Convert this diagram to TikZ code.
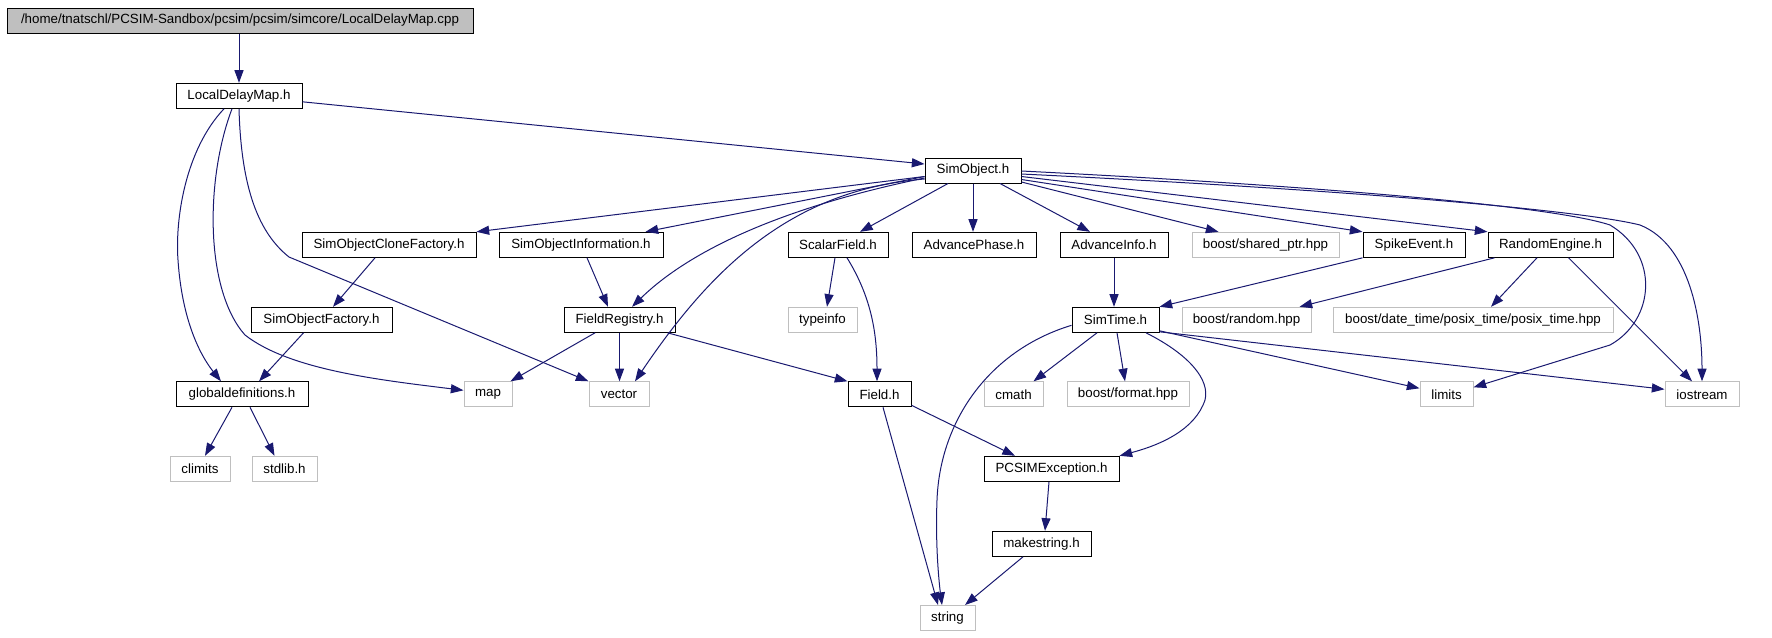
\documentclass[tikz,border=0pt]{standalone}
\usepackage{fontspec}
\setmainfont{Liberation Sans}
\usetikzlibrary{arrows.meta,calc}
\definecolor{edgeblue}{RGB}{25,25,112}
\definecolor{lgray}{RGB}{191,191,191}
\begin{document}
\begin{tikzpicture}[x=0.75pt,y=-0.75pt,
  box/.style={draw=black, fill=white, line width=0.75pt, minimum height=18.75pt, inner sep=0pt, font=\fontsize{10}{12}\selectfont},
  ext/.style={box, draw=lgray},
  rootbox/.style={box, fill=lgray},
  bw/.style={minimum width=#1*0.75pt},
  dep/.style={draw=edgeblue, line width=0.75pt, -{Triangle[length=9.5pt,width=6.8pt]}, fill=none}]
\useasboundingbox (0,0) rectangle (1772,637);
% row 0
\node[rootbox,bw=466] (cpp) at (240,20.5) {/home/tnatschl/PCSIM-Sandbox/pcsim/pcsim/simcore/LocalDelayMap.cpp};
% row 1
\node[box,bw=126] (ldm) at (239,95.8) {LocalDelayMap.h};
% row 2
\node[box,bw=96] (so) at (973,170.5) {SimObject.h};
% row 3
\node[box,bw=174] (socf) at (389,244.8) {SimObjectCloneFactory.h};
\node[box,bw=164] (soi) at (581,244.8) {SimObjectInformation.h};
\node[box,bw=100] (sf) at (838,244.8) {ScalarField.h};
\node[box,bw=124] (ap) at (974,244.8) {AdvancePhase.h};
\node[box,bw=108] (ai) at (1114,244.8) {AdvanceInfo.h};
\node[ext,bw=147] (bsp) at (1265.5,244.8) {boost/shared\_ptr.hpp};
\node[box,bw=102] (se) at (1414,244.8) {SpikeEvent.h};
\node[box,bw=125] (re) at (1550.5,244.8) {RandomEngine.h};
% row 4
\node[box,bw=141] (sof) at (321.5,319.8) {SimObjectFactory.h};
\node[box,bw=111] (fr) at (619.5,319.8) {FieldRegistry.h};
\node[ext,bw=69] (ti) at (822.5,319.8) {typeinfo};
\node[box,bw=87] (st) at (1115.5,319.8) {SimTime.h};
\node[ext,bw=129] (br) at (1246.5,319.8) {boost/random.hpp};
\node[ext,bw=280] (bdt) at (1473,319.8) {boost/date\_time/posix\_time/posix\_time.hpp};
% row 5
\node[box,bw=132] (gd) at (242,394.3) {globaldefinitions.h};
\node[ext,bw=48] (map) at (488,394.3) {map};
\node[ext,bw=60] (vec) at (619,394.3) {vector};
\node[box,bw=63] (fld) at (879.5,394.3) {Field.h};
\node[ext,bw=59] (cm) at (1013.5,394.3) {cmath};
\node[ext,bw=122] (bf) at (1128,394.3) {boost/format.hpp};
\node[ext,bw=53] (lim) at (1446.5,394.3) {limits};
\node[ext,bw=74] (ios) at (1702,394.3) {iostream};
% row 6
\node[ext,bw=60] (clim) at (200,468.8) {climits};
\node[ext,bw=65] (stdl) at (284.5,468.8) {stdlib.h};
\node[box,bw=135] (pe) at (1051.5,468.8) {PCSIMException.h};
% row 7
\node[box,bw=99] (ms) at (1041.5,543.8) {makestring.h};
% row 8
\node[ext,bw=55] (str) at (947.5,618) {string};

% edges
\draw[dep] (cpp.south -| ldm.north) -- (ldm.north);
\draw[dep] ($(ldm.east)+(0,6)$) -- ($(so.west)+(0,-6.5)$);
\draw[dep] ($(ldm.south)+(-15,0)$) .. controls (185,150) and (175,220) .. (178,260) .. controls (182,320) and (200,355) .. ($(gd.north)+(-21,0)$);
\draw[dep] ($(ldm.south)+(-7,0)$) .. controls (205,180) and (205,290) .. (245,335) .. controls (290,370) and (380,380) .. ($(map.west)+(0,-4)$);
\draw[dep] (ldm.south) .. controls (241,180) and (255,230) .. (289,257) -- (vec.north west);

\draw[dep] ($(so.west)+(0,6)$) -- (socf.north east);
\draw[dep] ($(so.west)+(0,6)$) -- ($(soi.north east)+(-18,0)$);
\draw[dep] ($(so.west)+(0,7.5)$) .. controls (760,212) and (680,260) .. ($(fr.north)+(12.5,0)$);
\draw[dep] ($(so.west)+(0,8.5)$) .. controls (790,190) and (710,270) .. ($(vec.north)+(16,0)$);
\draw[dep] ($(so.south)+(-25,0)$) -- ($(sf.north)+(22,0)$);
\draw[dep] (so.south) -- (so.south |- ap.north);
\draw[dep] ($(so.south)+(27,0)$) -- ($(ai.north)+(-24,0)$);
\draw[dep] ($(so.east)+(0,11.5)$) -- ($(bsp.north)+(-47,0)$);
\draw[dep] ($(so.east)+(0,9)$) -- (se.north west);
\draw[dep] ($(so.east)+(0,6)$) -- (re.north west);
\draw[dep] ($(so.east)+(0,0.5)$) .. controls (1300,185) and (1550,205) .. (1610,225) .. controls (1660,255) and (1655,320) .. (1610,345) -- ($(lim.east)+(0,-7)$);
\draw[dep] ($(so.east)+(0,3.5)$) .. controls (1350,190) and (1580,210) .. (1640,225) .. controls (1690,245) and (1702,320) .. (ios.north);

\draw[dep] ($(socf.south)+(-14,0)$) -- ($(sof.north)+(11.5,0)$);
\draw[dep] ($(soi.south)+(6,0)$) -- ($(fr.north)+(-11.5,0)$);
\draw[dep] ($(sof.south)+(-18,0)$) -- ($(gd.north)+(17,0)$);
\draw[dep] ($(fr.south)+(-24.5,0)$) -- ($(map.north east)+(-2,0)$);
\draw[dep] (fr.south) -- (fr.south |- vec.north);
\draw[dep] ($(fr.south east)+(-8,0)$) -- (fld.north west);
\draw[dep] ($(sf.south)+(-3,0)$) -- ($(ti.north)+(4.5,0)$);
\draw[dep] ($(sf.south)+(9,0)$) .. controls (870,295) and (877,330) .. ($(fld.north)+(-2.5,0)$);
\draw[dep] (ai.south) -- (ai.south |- st.north);
\draw[dep] (se.south west) -- (st.north east);
\draw[dep] ($(re.south west)+(7,0)$) -- ($(br.north east)+(-12,0)$);
\draw[dep] ($(re.south)+(-13.5,0)$) -- ($(bdt.north)+(18,0)$);
\draw[dep] ($(re.south)+(18,0)$) -- ($(ios.north)+(-10,0)$);

\draw[dep] ($(st.west)+(0,5.5)$) .. controls (990,350) and (940,420) .. (937,500) .. controls (935,550) and (940,590) .. ($(str.north)+(-5.5,0)$);
\draw[dep] ($(st.south)+(-18.5,0)$) -- ($(cm.north east)+(-10,0)$);
\draw[dep] ($(st.south)+(1.5,0)$) -- ($(bf.north)+(-3,0)$);
\draw[dep] ($(st.south)+(30.5,0)$) .. controls (1190,355) and (1210,380) .. (1205,400) .. controls (1195,430) and (1160,445) .. (pe.north east);
\draw[dep] ($(st.south east)+(0,-2)$) -- ($(lim.west)+(0,-6)$);
\draw[dep] ($(st.south east)+(0,-1)$) -- ($(ios.west)+(0,-5)$);

\draw[dep] ($(gd.south)+(-10,0)$) -- ($(clim.north)+(5,0)$);
\draw[dep] ($(gd.south)+(8,0)$) -- ($(stdl.north)+(-10,0)$);
\draw[dep] ($(fld.south east)+(0,-2)$) -- ($(pe.north)+(-36.5,0)$);
\draw[dep] ($(fld.south)+(3.5,0)$) -- ($(str.north)+(-9.5,0)$);
\draw[dep] ($(pe.south)+(-2.5,0)$) -- ($(ms.north)+(3.5,0)$);
\draw[dep] ($(ms.south)+(-18.5,0)$) -- ($(str.north)+(17.5,0)$);
\end{tikzpicture}
\end{document}
